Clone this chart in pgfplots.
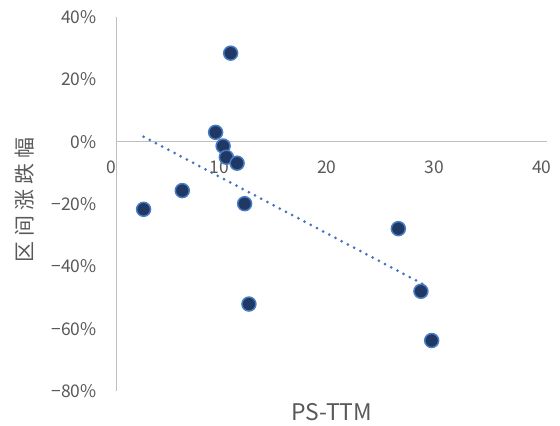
\documentclass[border=0pt]{standalone}
\usepackage{pgfplots}
\pgfplotsset{compat=1.18}
\usepackage{fontspec}
\setmainfont{Noto Sans CJK SC}
\definecolor{ptfill}{HTML}{203864}
\definecolor{ptedge}{HTML}{4A7CC4}
\definecolor{trend}{HTML}{4472C4}
\definecolor{axgray}{HTML}{BFBFBF}
\definecolor{txtgray}{HTML}{595959}
\begin{document}
\begin{tikzpicture}
\path[use as bounding box] (-116.7bp,-35bp) rectangle (443.3bp,391bp);
\begin{axis}[
  scale only axis,
  width=430bp, height=374bp,
  xmin=0, xmax=40, ymin=-80, ymax=40,
  axis x line=middle, axis y line=left,
  axis line style={draw=axgray, line width=1.3bp, -},
  hide obscured x ticks=false, hide obscured y ticks=false,
  major tick length=0pt,
  xtick={0,10,20,30,40},
  ytick={-80,-60,-40,-20,0,20,40},
  yticklabels={−80\%,−60\%,−40\%,−20\%,0\%,20\%,40\%},
  /pgf/number format/assume math mode=true,
  tick label style={font=\fontsize{17.5}{20}\selectfont, text=txtgray},
  x tick label style={anchor=center, yshift=-26bp, xshift=-5bp},
  y tick label style={anchor=east, inner sep=0pt, xshift=-20bp},
  xlabel={PS-TTM},
  ylabel={区\hspace{5bp}间\hspace{5bp}涨\hspace{5bp}跌\hspace{5bp}幅},
  xlabel style={at={(axis description cs:0.5,0)}, anchor=center, yshift=-20.7bp,
    font=\fontsize{23}{26}\selectfont, text=txtgray},
  ylabel style={at={(axis description cs:-0.2133,0.51)}, anchor=center, rotate=0,
    font=\fontsize{21}{24}\selectfont, text=txtgray},
  clip=false,
]
% linear trend line
\addplot[trend, line width=3bp, dash pattern=on 0pt off 7bp, line cap=round]
  coordinates {(2.5,1.6) (28.6,-45.9)};
% scatter points
\addplot[only marks, mark=*, mark size=7bp,
  mark options={fill=ptfill, draw=ptedge, line width=1.5bp}]
  coordinates {
    (10.6,28.4) (9.2,3.0) (9.9,-1.4) (10.2,-5.0) (11.2,-6.9)
    (6.1,-15.7) (2.5,-21.7) (11.9,-19.9) (12.3,-52.1)
    (26.2,-27.9) (28.3,-48.0) (29.3,-63.8)
  };
\end{axis}
\end{tikzpicture}
\end{document}
